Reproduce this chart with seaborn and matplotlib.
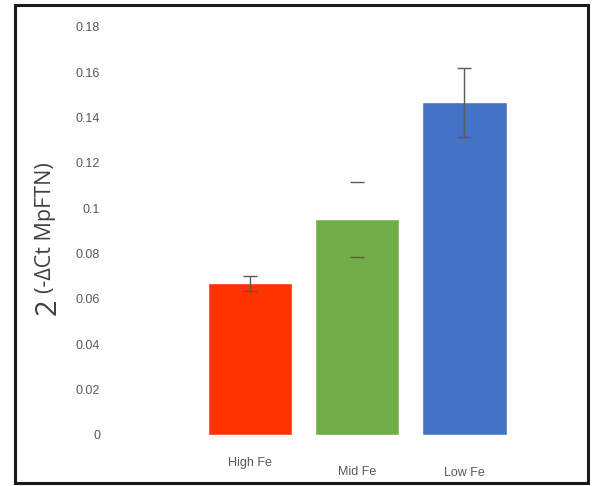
import numpy as np
import pandas as pd
import matplotlib
matplotlib.use('Agg')
import matplotlib.pyplot as plt
import matplotlib.transforms as mtransforms
from matplotlib.patches import Rectangle
import seaborn as sns

# Data
groups = ['High Fe', 'Mid Fe', 'Low Fe']
expression = [0.067, 0.0952, 0.1467]
errors = [0.0033, 0.0165, 0.0153]
bar_colors = ['#FF3300', '#70AD47', '#4472C4']
y_ticks = [0, 0.02, 0.04, 0.06, 0.08, 0.1, 0.12, 0.14, 0.16, 0.18]
y_ticklabels = ['0', '0.02', '0.04', '0.06', '0.08', '0.1', '0.12', '0.14', '0.16', '0.18']

sns.set_style('white')
plt.rcParams['font.family'] = ['Liberation Sans', 'DejaVu Sans']

df = pd.DataFrame({'group': groups, 'value': expression})

fig = plt.figure(figsize=(5.94, 4.86), dpi=100)
ax = fig.add_axes([0.185, 0.105, 0.775, 0.8395])

sns.barplot(data=df, x='group', y='value', hue='group', palette=bar_colors,
            order=groups, hue_order=groups, legend=False, width=0.79,
            saturation=1, errorbar=None, ax=ax)

x = np.arange(len(groups))
err_color = '#595959'
for i in range(len(groups)):
    # the Mid Fe bar shows only the caps in the original
    ax.errorbar(x[i], expression[i], yerr=errors[i], fmt='none', ecolor=err_color,
                elinewidth=0 if groups[i] == 'Mid Fe' else 1.0,
                capsize=5, capthick=1.0)

ax.set_xlim(-1.31, 2.99)
ax.set_ylim(0, 0.18)
ax.set_yticks(y_ticks)
ax.set_yticklabels(y_ticklabels, color='#595959', fontsize=9)
ax.tick_params(axis='y', length=0, pad=7)
ax.tick_params(axis='x', length=0, pad=16, labelsize=9, labelcolor='#595959')
ax.set_xlabel('')
ax.set_ylabel('')
for s in ax.spines.values():
    s.set_visible(False)

# the category labels sit at slightly different heights in the original
offsets = [0, 9, 10]
for lbl, dy in zip(ax.get_xticklabels(), offsets):
    lbl.set_transform(lbl.get_transform() +
                      mtransforms.ScaledTranslation(0, -dy / 100, fig.dpi_scale_trans))

# y axis title: 2^(-ΔCt MpFTN)
fig.text(48 / 594, 1 - 307 / 486, '2', rotation=90, fontsize=21, color='#404040',
         ha='center', va='center', family=['Open Sans', 'DejaVu Sans'])
fig.text(46 / 594, 1 - 228 / 486, '(-ΔCt MpFTN)', rotation=90, fontsize=15.5,
         color='#404040', ha='center', va='center', family=['Open Sans', 'DejaVu Sans'])

# frame around the whole picture
fig.patches.append(Rectangle((15 / 594, 3 / 486), 573 / 594, 478 / 486,
                             transform=fig.transFigure, fill=False,
                             edgecolor='#1a1a1a', linewidth=2.2))

plt.savefig('out.png', dpi=100)
